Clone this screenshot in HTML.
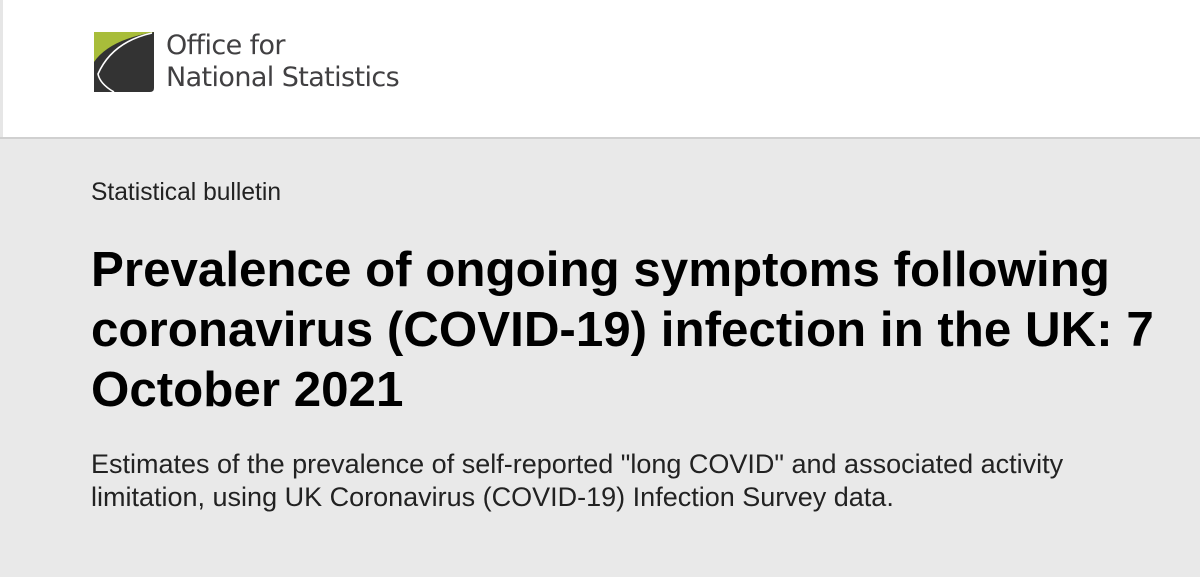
<!DOCTYPE html>
<html><head><meta charset="utf-8"><style>
html,body{margin:0;padding:0;width:1200px;height:577px;overflow:hidden;font-family:"Liberation Sans",sans-serif;background:#fff}
#hdr{position:absolute;left:0;top:0;width:1200px;height:137px;background:#fff;border-left:3px solid #e6e6e6;box-sizing:border-box}
#band{position:absolute;left:0;top:137px;width:1200px;height:440px;background:#e9e9e9;border-top:2px solid #d0d0d0;box-sizing:border-box}
.lt{position:absolute;left:163px;color:#414042;font-family:"DejaVu Sans","Liberation Sans",sans-serif;font-size:27px;letter-spacing:-0.6px;white-space:nowrap}
#kick{position:absolute;left:91px;top:179px;font-size:24.6px;color:#222;white-space:nowrap}
#title{position:absolute;left:91px;top:240px;width:1110px;font-size:49.3px;font-weight:bold;line-height:60px;color:#000;margin:0;white-space:nowrap}
#sub{position:absolute;left:91px;top:448px;width:1100px;font-size:27px;line-height:33px;color:#222;margin:0;white-space:nowrap}
</style></head><body>
<div id="hdr">
<svg style="position:absolute;left:91px;top:32px" width="60" height="60" viewBox="0 0 60 60">
<path d="M0 0H60V56Q60 60 56 60H0Z" fill="#333"/>
<path d="M0 0H60Q15 8 0 30Z" fill="#a8bd3a"/>
<path d="M58 1Q18 10 4 42Q6 52 20 60" stroke="#fff" stroke-width="1.6" fill="none"/>
</svg>
<div class="lt" style="top:30px">Office for</div>
<div class="lt" style="top:62px">National Statistics</div>
</div>
<div id="band"></div>
<div id="kick">Statistical bulletin</div>
<h1 id="title">Prevalence of ongoing symptoms following<br>coronavirus (COVID-19) infection in the UK: 7<br>October 2021</h1>
<p id="sub">Estimates of the prevalence of self-reported "long COVID" and associated activity<br>limitation, using UK Coronavirus (COVID-19) Infection Survey data.</p>
</body></html>
